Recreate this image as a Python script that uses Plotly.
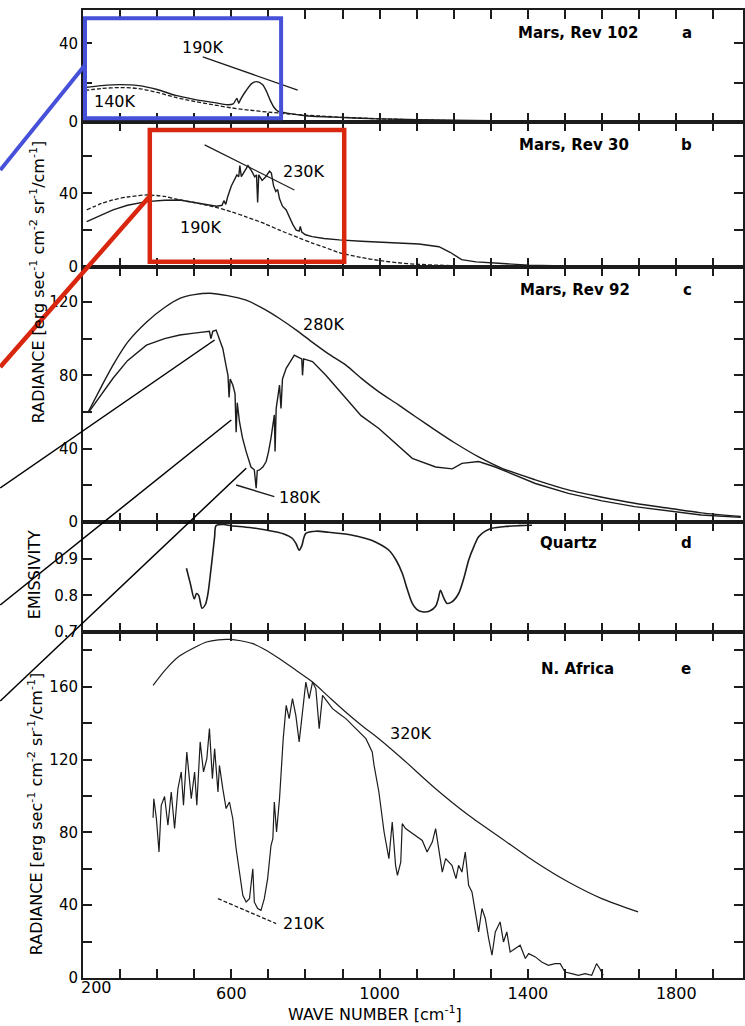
import plotly.graph_objects as go

# ---------------- data ----------------
# panel a  (Mars, Rev 102)
a_obs_wn = [205, 250, 300, 350, 400, 450, 500, 550, 590, 605, 615, 620, 625, 640, 655, 668, 684, 695, 705, 715, 725, 750, 800, 900, 1000, 1100, 1200, 1400, 1600, 1800, 1980]
a_obs_val = [17.5, 18.5, 19, 18.5, 16.5, 13.5, 11.5, 10, 8.8, 9.2, 12, 9.5, 11.5, 16, 19.5, 20.5, 19, 15.5, 11, 7.5, 5.5, 4.5, 3.2, 2.3, 1.6, 1.2, 0.9, 0.5, 0.3, 0.2, 0.1]
a_bb_wn = [205, 250, 300, 350, 400, 450, 500, 550, 600, 650, 700, 750, 800, 900, 1000, 1200, 1400, 1600, 1800, 1980]
a_bb_val = [16, 17, 17.5, 17, 15, 12.5, 10.5, 8.8, 7.2, 6, 5, 4.2, 3.5, 2.4, 1.6, 0.7, 0.3, 0.1, 0.05, 0.02]
a_ref_wn = [523, 779]
a_ref_val = [33.1, 16.2]

# panel b  (Mars, Rev 30)
b_obs_wn = [210, 250, 281, 320, 371, 420, 461, 500, 540, 560, 575, 580, 585, 590, 600, 608, 615, 620, 623, 627, 635, 645, 655, 663, 668, 671, 674, 683, 693, 703, 708, 714, 720, 725, 730, 738, 748, 756, 766, 775, 783, 786, 790, 800, 818, 850, 891, 950, 1000, 1079, 1106, 1160, 1190, 1221, 1260, 1321, 1402, 1500, 1600, 1800, 1980]
b_obs_val = [24.6, 28, 31, 33.5, 35.5, 36.2, 36.4, 35, 33.5, 33, 33.5, 36, 34, 38, 44, 47, 50, 49, 55, 49, 52, 55, 52, 49, 50, 35, 50, 47, 49, 52, 51, 44, 41, 42, 37, 33, 31, 27, 23, 20, 19.5, 22, 19, 17.5, 16.5, 15.5, 14.7, 14, 13.5, 13, 12.5, 11, 8, 4, 2.8, 2, 1, 0.6, 0.5, 0.3, 0.2]
b_bb_wn = [210, 250, 281, 320, 371, 420, 461, 500, 550, 600, 640, 690, 730, 780, 818, 850, 891, 950, 1000, 1050, 1100, 1200, 1300, 1400, 1600, 1980]
b_bb_val = [31, 34.5, 36.4, 38, 39.1, 38.3, 36.4, 35, 32.8, 30, 27.2, 23.5, 20, 16, 13, 10.8, 7.8, 5.2, 3.5, 2.3, 1.5, 0.7, 0.3, 0.1, 0.05, 0.02]
b_ref_wn = [528, 770]
b_ref_val = [66.3, 41.8]

# panel c  (Mars, Rev 92)
c_obs_wn = [214, 250, 281, 320, 371, 420, 461, 500, 541, 545, 550, 559, 568, 577, 586, 591, 594, 597, 604, 610, 613, 616, 622, 630, 640, 653, 662, 667, 670, 676, 685, 694, 700, 707, 716, 718, 721, 730, 734, 738, 748, 760, 770, 780, 790, 792, 795, 819, 855, 909, 950, 998, 1061, 1088, 1151, 1196, 1222, 1267, 1312, 1360, 1420, 1509, 1600, 1688, 1780, 1867, 1974]
c_obs_val = [59.5, 70, 78.4, 88, 96.5, 100, 102, 103, 104, 100, 104, 104.7, 100, 94.7, 85, 80, 68, 78, 74.7, 70, 49, 65, 54.7, 46, 38.4, 30, 28.5, 18.4, 28, 28.4, 30, 33, 38, 45.7, 58.4, 38.4, 62, 74.7, 62, 78, 83.8, 88, 91, 90, 89, 80, 89, 87.5, 80, 67.5, 58, 51, 39.3, 34.7, 30, 29, 32, 33, 30, 26, 21, 15.6, 11.5, 8.4, 6, 3.8, 2.5]
c_bb_wn = [214, 250, 281, 320, 371, 420, 461, 500, 541, 590, 640, 690, 730, 780, 819, 860, 909, 950, 998, 1050, 1100, 1151, 1200, 1267, 1330, 1420, 1509, 1600, 1688, 1780, 1867, 1974]
c_bb_val = [60, 74, 85.6, 98, 109, 117, 122, 124, 124.8, 123.5, 121, 116, 111, 104, 98, 92, 85.6, 78.5, 71, 64, 57, 50, 43.5, 35.5, 29.3, 23, 17.5, 13.5, 10.2, 7.5, 5, 3]
c_ref_wn = [613, 716]
c_ref_val = [20.2, 13.8]

# panel d  (Quartz emissivity)
d_wn = [479, 490, 500, 506, 512, 521, 530, 537, 545, 550, 555, 559, 580, 600, 650, 694, 740, 765, 775, 783, 790, 801, 830, 862, 920, 963, 990, 1025, 1045, 1061, 1075, 1088, 1100, 1115, 1135, 1151, 1158, 1164, 1172, 1182, 1195, 1213, 1228, 1240, 1255, 1267, 1285, 1303, 1340, 1375, 1411]
d_val = [0.874, 0.83, 0.79, 0.805, 0.8, 0.765, 0.775, 0.805, 0.87, 0.914, 0.96, 0.99, 0.993, 0.99, 0.985, 0.978, 0.968, 0.955, 0.94, 0.923, 0.935, 0.969, 0.975, 0.972, 0.965, 0.955, 0.945, 0.923, 0.895, 0.86, 0.815, 0.778, 0.762, 0.755, 0.757, 0.77, 0.79, 0.814, 0.795, 0.778, 0.782, 0.805, 0.85, 0.896, 0.935, 0.96, 0.975, 0.983, 0.988, 0.99, 0.991]

# panel e  (N. Africa)
e_obs_wn = [389, 391, 398, 405, 411, 420, 429, 438, 447, 456, 465, 471, 480, 492, 501, 507, 516, 525, 534, 541, 549, 555, 564, 568, 577, 586, 595, 604, 613, 622, 631, 640, 649, 658, 662, 671, 680, 689, 698, 707, 712, 716, 722, 730, 734, 740, 748, 756, 765, 774, 783, 792, 801, 810, 819, 828, 837, 846, 860, 873, 891, 909, 927, 945, 963, 980, 985, 998, 1012, 1025, 1034, 1043, 1048, 1057, 1061, 1070, 1097, 1115, 1128, 1142, 1151, 1160, 1169, 1178, 1195, 1206, 1213, 1222, 1231, 1240, 1249, 1258, 1267, 1276, 1285, 1294, 1303, 1312, 1325, 1334, 1343, 1352, 1366, 1379, 1393, 1402, 1420, 1437, 1455, 1473, 1487, 1500, 1518, 1536, 1554, 1572, 1585, 1594, 1603]
e_obs_val = [88, 98.5, 87.5, 69.2, 94.9, 99.7, 83.9, 102.2, 82.1, 104, 113.2, 94.9, 124.2, 98.5, 113.2, 94.9, 129.7, 113.2, 120.5, 137, 109.5, 126, 102.2, 116.8, 104, 93.1, 96.7, 87.5, 71, 58.2, 45.4, 41.8, 43.6, 60, 41.8, 38.2, 37.2, 43.6, 54.6, 72.8, 76.5, 96.7, 80.2, 98.5, 113.2, 131.5, 149.8, 142.5, 153.5, 144.3, 129.7, 148, 162.6, 153.5, 162.6, 158.9, 137, 155.3, 151.6, 148, 145.2, 142.5, 138.8, 135.2, 131.5, 124.2, 116.8, 102.2, 80.2, 65.6, 85.7, 61.9, 56.4, 63.7, 84.8, 82.1, 78.4, 75.6, 69.2, 74.7, 82.1, 71, 58.2, 65.6, 61.9, 54.6, 61.9, 58.2, 69.2, 50.9, 47.3, 36.3, 25.3, 38.2, 32.7, 21.6, 12.5, 25.3, 30.8, 19.8, 25.3, 14.3, 16.1, 18, 10.7, 13.4, 11.6, 8.8, 7, 7.9, 7.9, 3.3, 2.4, 1.5, 2.4, 1.5, 7.9, 5.1, 1.5]
e_bb_wn = [389, 425, 461, 500, 533, 565, 595, 625, 658, 690, 730, 775, 819, 860, 909, 950, 998, 1061, 1151, 1240, 1330, 1420, 1509, 1599, 1697]
e_bb_val = [160.8, 170, 177, 181.5, 184.6, 185.8, 186, 185.3, 183.7, 180.5, 175.4, 169, 162.6, 155, 146, 139, 131.5, 120.5, 104, 89.4, 76.5, 63.7, 52.7, 43.6, 36.3]
e_ref_wn = [564, 721]
e_ref_val = [43.6, 29.9]

# axis tick values / labels (labelled majors; unlabelled minors every step)
x_major = [600, 1000, 1400, 1800]
x_minor_step = 100
a_major = [0, 40]
b_major = [0, 40]
c_major = [0, 40, 80, 120]
d_major = [0.7, 0.8, 0.9]
e_major = [0, 40, 80, 120, 160]
y_minor_steps = [20, 20, 20, 0.1, 20]

# ---------------- layout geometry ----------------
W, H = 745, 1026
ML, MR, MT, MB = 83, 0, 10, 48
PW = W - ML - MR
PH = H - MT - MB


def pxx(px):
    return (px - ML) / PW


def pxy(py):
    return (H - MB - py) / PH


bounds = [10, 122, 267, 522, 632, 978]
yranges = [[0, 56.9], [0, 78.7], [0, 139.1], [0.7, 1.0], [0, 190.1]]
XR = [200, 1980]
INK = "#1c1c1c"
FONT = "DejaVu Sans"

fig = go.Figure()


def add(xs, ys, i, width=1.4, dash="solid", shape="linear"):
    fig.add_trace(go.Scatter(x=xs, y=ys, mode="lines", xaxis="x" if i == 1 else f"x{i}",
                             yaxis="y" if i == 1 else f"y{i}",
                             line=dict(color=INK, width=width, dash=dash, shape=shape,
                                       smoothing=0.8 if shape == "spline" else None),
                             showlegend=False, hoverinfo="skip"))


add(a_bb_wn, a_bb_val, 1, 1.3, "4px,2px", "spline")
add(a_obs_wn, a_obs_val, 1, 1.4, "solid", "spline")
add(a_ref_wn, a_ref_val, 1, 1.2)
add(b_bb_wn, b_bb_val, 2, 1.3, "4px,2px", "spline")
add(b_obs_wn, b_obs_val, 2, 1.4)
add(b_ref_wn, b_ref_val, 2, 1.2)
add(c_bb_wn, c_bb_val, 3, 1.4, "solid", "spline")
add(c_obs_wn, c_obs_val, 3, 1.4)
add(c_ref_wn, c_ref_val, 3, 1.4)
add(d_wn, d_val, 4, 1.6, "solid", "spline")
add(e_bb_wn, e_bb_val, 5, 1.2, "solid", "spline")
add(e_obs_wn, e_obs_val, 5, 1.2)
add(e_ref_wn, e_ref_val, 5, 1.3, "4px,2px")

layout = dict(width=W, height=H, margin=dict(l=ML, r=MR, t=MT, b=MB),
              paper_bgcolor="white", plot_bgcolor="white", showlegend=False,
              font=dict(family=FONT, color="black"))
y_majors = [a_major, b_major, c_major, d_major, e_major]
for i in range(1, 6):
    top, bot = bounds[i - 1], bounds[i]
    xk = "xaxis" if i == 1 else f"xaxis{i}"
    yk = "yaxis" if i == 1 else f"yaxis{i}"
    layout[xk] = dict(domain=[0, 1], range=XR, anchor="y" if i == 1 else f"y{i}",
                      showline=True, linecolor=INK, linewidth=2, mirror="ticks",
                      ticks="inside", ticklen=9, tickwidth=1.6, tickcolor=INK,
                      tickmode="array", tickvals=x_major,
                      minor=dict(ticks="inside", dtick=x_minor_step, tick0=XR[0], ticklen=9,
                                 tickwidth=1.6, tickcolor=INK, showgrid=False),
                      showticklabels=(i == 5), tickfont=dict(size=16, family=FONT),
                      showgrid=False, zeroline=False)
    if i > 1:
        layout[xk]["matches"] = "x"
    layout[yk] = dict(domain=[pxy(bot), pxy(top)], range=yranges[i - 1],
                      anchor="x" if i == 1 else f"x{i}",
                      showline=True, linecolor=INK, linewidth=2, mirror="ticks",
                      ticks="inside", ticklen=9, tickwidth=1.6, tickcolor=INK,
                      tickmode="array", tickvals=y_majors[i - 1],
                      minor=dict(ticks="inside", dtick=y_minor_steps[i - 1], tick0=yranges[i - 1][0],
                                 ticklen=9, tickwidth=1.6, tickcolor=INK, showgrid=False),
                      tickfont=dict(size=15, family=FONT),
                      showgrid=False, zeroline=False)
fig.update_layout(**layout)

ann = []


def txt(text, x, y, xr, yr, size=16, bold=False, xanchor="center", angle=0):
    ann.append(dict(text=f"<b>{text}</b>" if bold else text, x=x, y=y, xref=xr, yref=yr,
                    showarrow=False, xanchor=xanchor, yanchor="middle", textangle=angle,
                    font=dict(size=size, family=FONT, color="black")))


# panel titles and letters (pixel positions -> paper)
for label, cx, cy in [("Mars, Rev 102", 579, 33), ("Mars, Rev 30", 575, 145), ("Mars, Rev 92", 576, 290),
                      ("Quartz", 570, 543), ("N. Africa", 579, 669)]:
    txt(label, pxx(cx), pxy(cy), "paper", "paper", 15, True)
for label, cx, cy in [("a", 689, 33), ("b", 688, 145), ("c", 689, 290), ("d", 688, 543), ("e", 688, 669)]:
    txt(label, pxx(cx), pxy(cy), "paper", "paper", 15, True)
# temperature labels
txt("190K", 523, 38.1, "x", "y")
txt("140K", 286, 10.3, "x", "y")
txt("230K", 797, 51.8, "x2", "y2")
txt("190K", 519, 21.2, "x2", "y2")
txt("280K", 850, 107.5, "x3", "y3")
txt("180K", 786, 13.1, "x3", "y3")
txt("320K", 1084, 134.2, "x5", "y5")
txt("210K", 797, 30.2, "x5", "y5")
# axis titles
rad = "RADIANCE [erg sec<sup>-1</sup> cm<sup>-2</sup> sr<sup>-1</sup>/cm<sup>-1</sup>]"
txt(rad, pxx(38), pxy(282), "paper", "paper", 16, angle=-90)
txt(rad, pxx(35), pxy(814), "paper", "paper", 16, angle=-90)
txt("EMISSIVITY", pxx(34), pxy(575), "paper", "paper", 16, angle=-90)
txt("WAVE NUMBER [cm<sup>-1</sup>]", pxx(376), pxy(1013), "paper", "paper", 16)
txt("200", pxx(97), pxy(988), "paper", "paper", 16)
fig.update_layout(annotations=ann)

# overlay highlight boxes and pointer lines
BLUE = "#4650d8"
RED = "#d8260f"
shapes = [
    dict(type="rect", x0=pxx(85), x1=pxx(281.7), y0=pxy(118.3), y1=pxy(18.3), line=dict(color=BLUE, width=4)),
    dict(type="line", x0=pxx(0), y0=pxy(170), x1=pxx(85), y1=pxy(65), line=dict(color=BLUE, width=4)),
    dict(type="rect", x0=pxx(150), x1=pxx(345), y0=pxy(261.7), y1=pxy(130), line=dict(color=RED, width=4.5)),
    dict(type="line", x0=pxx(0), y0=pxy(367), x1=pxx(151), y1=pxy(195), line=dict(color=RED, width=4.5)),
    dict(type="line", x0=pxx(0), y0=pxy(488), x1=pxx(215), y1=pxy(340), line=dict(color="black", width=1.5)),
    dict(type="line", x0=pxx(0), y0=pxy(605), x1=pxx(231.7), y1=pxy(420), line=dict(color="black", width=1.5)),
    dict(type="line", x0=pxx(0), y0=pxy(701), x1=pxx(246.7), y1=pxy(468.3), line=dict(color="black", width=1.5)),
]
for s in shapes:
    s.update(xref="paper", yref="paper", layer="above")
fig.update_layout(shapes=shapes)

fig.write_html("out.html", config={"displayModeBar": False},
               post_script="document.body.style.margin='0px';")
